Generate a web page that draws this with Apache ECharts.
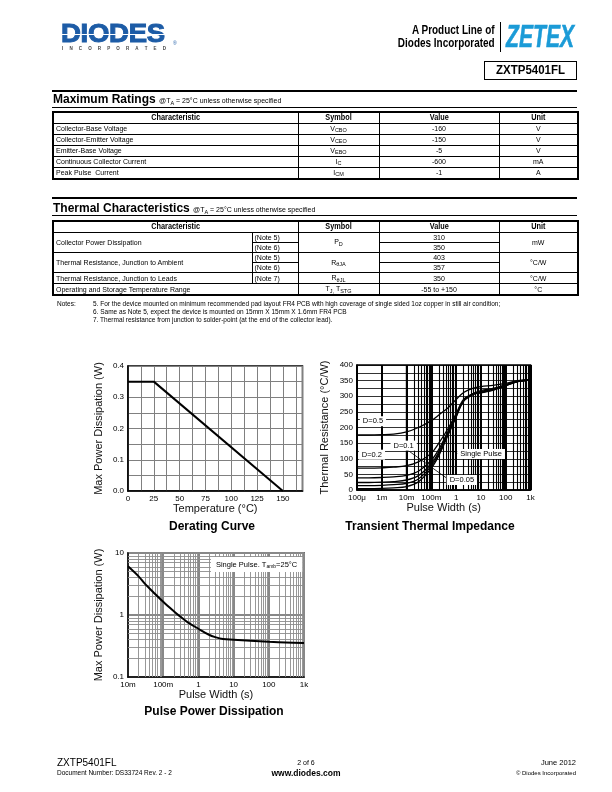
<!DOCTYPE html>
<html><head><meta charset="utf-8">
<script src="https://cdn.jsdelivr.net/npm/echarts/dist/echarts.min.js"></script>
<style>
body{margin:0;width:612px;height:792px;position:relative;background:#fff;font-family:Arial,"Liberation Sans",Helvetica,sans-serif;color:#000;overflow:hidden}
.a{position:absolute;white-space:nowrap}
#chart{position:absolute;left:0;top:0;width:612px;height:792px}
table{border-collapse:collapse;table-layout:fixed;position:absolute;font-size:7px;border:2px solid #000}
td{border:1px solid #000;padding:0 0 0 2px;line-height:9px;white-space:nowrap;overflow:hidden}
td.c{text-align:center;padding:0}
tr.h td{font-weight:bold;font-size:8.6px;text-align:center;padding:0}
tr.h td span{display:inline-block;transform:scaleX(0.85)}
.sb{font-size:5.5px;position:relative;top:1.5px}
.line{position:absolute;left:52px;width:525px;background:#000}
.notes{font-size:6.5px;line-height:7.8px}
</style></head>
<body>
<div id="chart"></div>

<!-- header -->
<div class="a" style="left:61px;top:18px;font-weight:bold;font-size:26px;line-height:30px;color:#1d5ca6;transform-origin:left top;transform:scaleX(1.06);letter-spacing:-0.3px;-webkit-text-stroke:1px #1d5ca6">DIODES</div>
<div class="a" style="left:62px;top:34px;width:107px;height:1.3px;background:#fff"></div>
<div class="a" style="left:62px;top:46px;width:104px;display:flex;justify-content:space-between;font-size:4.5px;font-weight:bold;color:#444;line-height:5px"><span>I</span><span>N</span><span>C</span><span>O</span><span>R</span><span>P</span><span>O</span><span>R</span><span>A</span><span>T</span><span>E</span><span>D</span></div>
<div class="a" style="left:173px;top:40px;font-size:5px;color:#1d5ca6">®</div>

<div class="a" style="right:117px;top:23px;font-weight:bold;font-size:12px;line-height:14px;text-align:right;transform-origin:right top;transform:scaleX(0.83)">A Product Line of</div>
<div class="a" style="right:117px;top:36px;font-weight:bold;font-size:12px;line-height:14px;text-align:right;transform-origin:right top;transform:scaleX(0.83)">Diodes Incorporated</div>
<div class="a" style="left:500px;top:22px;width:1px;height:30px;background:#000"></div>
<div class="a" style="left:506px;top:20px;font-weight:bold;font-style:italic;font-size:32px;line-height:32px;color:#1b9bd7;transform-origin:left top;transform:scaleX(0.66);-webkit-text-stroke:0.6px #1b9bd7">ZETEX</div>
<div class="a" style="left:484px;top:61px;width:93px;height:19px;box-sizing:border-box;border:1.5px solid #000;font-weight:bold;font-size:12.5px;line-height:16px;text-align:center"><span style="display:inline-block;transform:scaleX(0.92)">ZXTP5401FL</span></div>

<!-- maximum ratings -->
<div class="line" style="top:89.5px;height:2px"></div>
<div class="a" style="left:53px;top:92px;font-weight:bold;font-size:12px;line-height:14px">Maximum Ratings <span style="font-weight:normal;font-size:7px">@T<span class="sb">A</span> = 25°C unless otherwise specified</span></div>
<div class="line" style="top:106.5px;height:1px"></div>
<table style="left:52px;top:111px;width:525px">
<colgroup><col style="width:245px"><col style="width:81px"><col style="width:120px"><col style="width:79px"></colgroup>
<tr class="h" style="height:11px"><td><span>Characteristic</span></td><td><span>Symbol</span></td><td><span>Value</span></td><td><span>Unit</span></td></tr>
<tr style="height:11px"><td>Collector-Base Voltage</td><td class="c">V<span class="sb">CBO</span></td><td class="c">-160</td><td class="c">V</td></tr>
<tr style="height:11px"><td>Collector-Emitter Voltage</td><td class="c">V<span class="sb">CEO</span></td><td class="c">-150</td><td class="c">V</td></tr>
<tr style="height:11px"><td>Emitter-Base Voltage</td><td class="c">V<span class="sb">EBO</span></td><td class="c">-5</td><td class="c">V</td></tr>
<tr style="height:11px"><td>Continuous Collector Current</td><td class="c">I<span class="sb">C</span></td><td class="c">-600</td><td class="c">mA</td></tr>
<tr style="height:11px"><td>Peak Pulse&nbsp; Current</td><td class="c">I<span class="sb">CM</span></td><td class="c">-1</td><td class="c">A</td></tr>
</table>

<!-- thermal -->
<div class="line" style="top:196.5px;height:2px"></div>
<div class="a" style="left:53px;top:201px;font-weight:bold;font-size:12px;line-height:14px">Thermal Characteristics <span style="font-weight:normal;font-size:7px">@T<span class="sb">A</span> = 25°C unless otherwise specified</span></div>
<div class="line" style="top:215px;height:1px"></div>
<table style="left:52px;top:220px;width:525px">
<colgroup><col style="width:199px"><col style="width:46px"><col style="width:81px"><col style="width:120px"><col style="width:79px"></colgroup>
<tr class="h" style="height:11px"><td colspan="2"><span>Characteristic</span></td><td><span>Symbol</span></td><td><span>Value</span></td><td><span>Unit</span></td></tr>
<tr style="height:10.2px"><td rowspan="2">Collector Power Dissipation</td><td>(Note 5)</td><td class="c" rowspan="2">P<span class="sb">D</span></td><td class="c">310</td><td class="c" rowspan="2">mW</td></tr>
<tr style="height:10.2px"><td>(Note 6)</td><td class="c">350</td></tr>
<tr style="height:10.2px"><td rowspan="2">Thermal Resistance, Junction to Ambient</td><td>(Note 5)</td><td class="c" rowspan="2">R<span class="sb">θJA</span></td><td class="c">403</td><td class="c" rowspan="2">°C/W</td></tr>
<tr style="height:10.2px"><td>(Note 6)</td><td class="c">357</td></tr>
<tr style="height:10.2px"><td>Thermal Resistance, Junction to Leads</td><td>(Note 7)</td><td class="c">R<span class="sb">θJL</span></td><td class="c">350</td><td class="c">°C/W</td></tr>
<tr style="height:10.2px"><td colspan="2">Operating and Storage Temperature Range</td><td class="c">T<span class="sb">J,</span> T<span class="sb">STG</span></td><td class="c">-55 to +150</td><td class="c">°C</td></tr>
</table>
<div class="a notes" style="left:57px;top:300px">Notes:</div>
<div class="a notes" style="left:93px;top:300px">5. For the device mounted on minimum recommended pad layout FR4 PCB with high coverage of single sided 1oz copper in still air condition;<br>6. Same as Note 5, expect the device is mounted on 15mm X 15mm X 1.6mm FR4 PCB<br>7. Thermal resistance from junction to solder-point (at the end of the collector lead).</div>

<!-- footer -->
<div class="a" style="left:57px;top:757px;font-size:10px;line-height:12px">ZXTP5401FL</div>
<div class="a" style="left:57px;top:769px;font-size:6.5px;line-height:8px">Document Number: DS33724 Rev. 2 - 2</div>
<div class="a" style="left:256px;width:100px;text-align:center;top:758px;font-size:7px;line-height:9px">2 of 6</div>
<div class="a" style="left:256px;width:100px;text-align:center;top:768px;font-size:8.5px;font-weight:bold;line-height:10px">www.diodes.com</div>
<div class="a" style="right:36px;top:758px;font-size:7.5px;line-height:9px;text-align:right">June 2012</div>
<div class="a" style="right:36px;top:769px;font-size:6px;line-height:8px;text-align:right">© Diodes Incorporated</div>

<script>
// ---------- data ----------
const derTemp = [0, 25, 150];
const derPower = [0.35, 0.35, 0];

const ttiTime = [1e-4, 3e-4, 1e-3, 3e-3, 1e-2, 3e-2, 0.1, 0.2, 0.5, 1, 2, 5, 10, 30, 100, 300, 1000];
const ttiD05 = [176, 176, 177, 179, 186, 200, 222, 240, 265, 290, 312, 326, 331, 335, 341, 350, 353];
const ttiD02 = [70, 70, 71, 73, 78, 90, 118, 150, 200, 245, 290, 309, 318, 325, 337, 348, 352];
const ttiD01 = [39, 39, 40, 42, 47, 60, 95, 130, 192, 240, 287, 308, 315, 323, 336, 348, 352];
const ttiD005 = [24, 24, 25, 27, 32, 46, 84, 122, 188, 238, 286, 308, 313, 321, 335, 347, 352];
const ttiD002 = [14, 14, 15, 17, 21, 35, 77, 116, 184, 236, 285, 307, 312, 320, 334, 347, 352];
const ttiSingle = [4, 4, 5, 7, 11, 26, 70, 110, 180, 233, 284, 306, 311, 319, 334, 347, 352];

const ppdTime = [0.01, 0.02, 0.03, 0.05, 0.1, 0.2, 0.3, 0.5, 1, 2, 3, 5, 10, 30, 100, 300, 1000];
const ppdPower = [6.1, 4.2, 3.2, 2.4, 1.63, 1.15, 0.95, 0.76, 0.6, 0.48, 0.44, 0.41, 0.40, 0.385, 0.37, 0.36, 0.355];

const ttiTickLabels = {'-4':'100μ','-3':'1m','-2':'10m','-1':'100m','0':'1','1':'10','2':'100','3':'1k'};
const ppdXTickLabels = {'-2':'10m','-1':'100m','0':'1','1':'10','2':'100','3':'1k'};
const ppdYTickLabels = {'-1':'0.1','0':'1','1':'10'};

// annotation layout (data coordinates)
const ttiNotes = [
  {text:'D=0.5', coord:[4.4e-4, 220]},
  {text:'D=0.2', coord:[4e-4, 113]},
  {text:'D=0.1', coord:[7.6e-3, 142]},
  {text:'Single Pulse', coord:[10.2, 115]},
  {text:'D=0.05', coord:[1.7, 32]}
];
const ttiLeaders = [
  [[1.04e-2, 129], [0.45, 36]],
  [[1.25, 115], [0.7, 127]]
];

// ---------- helpers ----------
function pairs(xs, ys){ return xs.map((x,i)=>[x, ys[i]]); }
function logMinors(lo, hi){
  const out = [];
  for(let e=lo; e<hi; e++){ for(let m=2; m<=9; m++){ out.push(m*Math.pow(10,e)); } }
  return out;
}
function expOf(v){ return String(Math.round(Math.log10(v))); }

const lblStyle = {color:'#000', fontSize:8, fontFamily:'Arial, Liberation Sans', margin:4};
const nameStyle = {color:'#111', fontSize:11, fontFamily:'Arial, Liberation Sans'};
const gridBase = {show:true, borderColor:'#000', borderWidth:1.5, backgroundColor:'transparent'};

const chart = echarts.init(document.getElementById('chart'));

const curveStyle = {color:'#000', width:1.3};
const ttiSets = [ttiD05, ttiD02, ttiD01, ttiD005, ttiD002, ttiSingle];

const option = {
  animation:false,
  grid:[
    Object.assign({left:128, top:366, width:174.5, height:125}, gridBase),
    Object.assign({left:357, top:365, width:173.5, height:125}, gridBase),
    Object.assign({left:128, top:553, width:176, height:124}, gridBase)
  ],
  xAxis:[
    {type:'value', gridIndex:0, min:0, max:169, interval:12.5,
     name:'Temperature (°C)', nameLocation:'middle', nameGap:12, nameTextStyle:nameStyle,
     axisLine:{lineStyle:{color:'#000', width:1.5}}, axisTick:{show:false},
     axisLabel:Object.assign({}, lblStyle, {showMaxLabel:false, formatter:v=> (v%25===0 && v<=150) ? String(v) : ''}),
     splitLine:{show:true, lineStyle:{color:'#808080', width:1}}},
    {type:'log', gridIndex:1, logBase:10, min:1e-4, max:1e3,
     name:'Pulse Width (s)', nameLocation:'middle', nameGap:12, nameTextStyle:nameStyle,
     axisLine:{lineStyle:{color:'#000', width:1.5}}, axisTick:{show:false},
     axisLabel:Object.assign({}, lblStyle, {formatter:v=> ttiTickLabels[expOf(v)] || ''}),
     splitLine:{show:true, lineStyle:{color:'#000', width:2}}},
    {type:'log', gridIndex:2, logBase:10, min:0.01, max:1000,
     name:'Pulse Width (s)', nameLocation:'middle', nameGap:11, nameTextStyle:nameStyle,
     axisLine:{lineStyle:{color:'#000', width:1.5}}, axisTick:{show:false},
     axisLabel:Object.assign({}, lblStyle, {formatter:v=> ppdXTickLabels[expOf(v)] || ''}),
     splitLine:{show:true, lineStyle:{color:'#888', width:2}}}
  ],
  yAxis:[
    {type:'value', gridIndex:0, min:0, max:0.4, interval:0.05,
     name:'Max Power Dissipation (W)', nameLocation:'middle', nameGap:24, nameTextStyle:nameStyle,
     axisLine:{lineStyle:{color:'#000', width:1.5}}, axisTick:{show:false},
     axisLabel:Object.assign({}, lblStyle, {formatter:v=> Math.abs(v*10-Math.round(v*10))<1e-6 ? v.toFixed(1) : ''}),
     splitLine:{show:true, lineStyle:{color:'#808080', width:1}}},
    {type:'value', gridIndex:1, min:0, max:400, interval:25,
     name:'Thermal Resistance (°C/W)', nameLocation:'middle', nameGap:27, nameTextStyle:nameStyle,
     axisLine:{lineStyle:{color:'#000', width:1.5}}, axisTick:{show:false},
     axisLabel:Object.assign({}, lblStyle, {formatter:v=> v%50===0 ? String(v) : ''}),
     splitLine:{show:true, lineStyle:{color:'#000', width:0.8}}},
    {type:'log', gridIndex:2, logBase:10, min:0.1, max:10,
     name:'Max Power Dissipation (W)', nameLocation:'middle', nameGap:24, nameTextStyle:nameStyle,
     axisLine:{lineStyle:{color:'#000', width:1.5}}, axisTick:{show:false},
     axisLabel:Object.assign({}, lblStyle, {formatter:v=> ppdYTickLabels[expOf(v)] || ''}),
     splitLine:{show:true, lineStyle:{color:'#888', width:2}}}
  ],
  graphic:[
    {type:'text', x:212, y:527, style:{text:'Derating Curve', font:'bold 12px Arial, Liberation Sans', fill:'#000', textAlign:'center', textVerticalAlign:'middle'}},
    {type:'text', x:430, y:526.5, style:{text:'Transient Thermal Impedance', font:'bold 12px Arial, Liberation Sans', fill:'#000', textAlign:'center', textVerticalAlign:'middle'}},
    {type:'text', x:214, y:712, style:{text:'Pulse Power Dissipation', font:'bold 12px Arial, Liberation Sans', fill:'#000', textAlign:'center', textVerticalAlign:'middle'}}
  ],
  series:[]
};

// derating curve
option.series.push({type:'line', xAxisIndex:0, yAxisIndex:0, data:pairs(derTemp, derPower), symbol:'none', lineStyle:{color:'#000', width:2}, z:5});

// transient thermal impedance - minor grid
option.series.push({type:'line', xAxisIndex:1, yAxisIndex:1, data:[], z:1, silent:true,
  markLine:{silent:true, symbol:['none','none'], animation:false, label:{show:false},
    lineStyle:{color:'#000', width:1.1, type:'solid'},
    data:logMinors(-4, 3).map(v=>({xAxis:v}))}});
ttiSets.forEach(arr=>{
  option.series.push({type:'line', xAxisIndex:1, yAxisIndex:1, data:pairs(ttiTime, arr), symbol:'none', smooth:0.35, lineStyle:curveStyle, z:5});
});
// annotations
option.series.push({type:'line', xAxisIndex:1, yAxisIndex:1, data:[], z:8, silent:true,
  markLine:{silent:true, symbol:['none','none'], animation:false, label:{show:false},
    lineStyle:{color:'#000', width:0.8, type:'solid'},
    data:ttiLeaders.map(l=>[{coord:l[0]},{coord:l[1]}])},
  markPoint:{silent:true, animation:false, symbol:'rect', symbolSize:1, itemStyle:{color:'rgba(0,0,0,0)'},
    label:{show:true, position:'inside', color:'#000', fontSize:7.5, fontFamily:'Arial, Liberation Sans', backgroundColor:'#fff', padding:[1,3]},
    data:ttiNotes.map(n=>({coord:n.coord, label:{formatter:n.text}}))}});

// pulse power dissipation - minor grid
option.series.push({type:'line', xAxisIndex:2, yAxisIndex:2, data:[], z:1, silent:true,
  markLine:{silent:true, symbol:['none','none'], animation:false, label:{show:false},
    lineStyle:{color:'#8c8c8c', width:0.9, type:'solid'},
    data:logMinors(-2, 3).map(v=>({xAxis:v})).concat(logMinors(-1, 1).map(v=>({yAxis:v})))}});
option.series.push({type:'line', xAxisIndex:2, yAxisIndex:2, data:pairs(ppdTime, ppdPower), symbol:'none', smooth:0.35, lineStyle:{color:'#000', width:2}, z:5,
  markPoint:{silent:true, animation:false, symbol:'rect', symbolSize:1, itemStyle:{color:'rgba(0,0,0,0)'},
    label:{show:true, position:'inside', backgroundColor:'#fff', padding:[3,5],
      formatter:'{a|Single Pulse. T}{s|amb}{a|=25°C}',
      rich:{a:{color:'#000', fontSize:7.5, fontFamily:'Arial, Liberation Sans'}, s:{color:'#000', fontSize:5, fontFamily:'Arial, Liberation Sans', verticalAlign:'bottom', padding:[4,0,0,0]}}},
    data:[{coord:[45, 6.5]}]}});

chart.setOption(option);
</script>
</body></html>
